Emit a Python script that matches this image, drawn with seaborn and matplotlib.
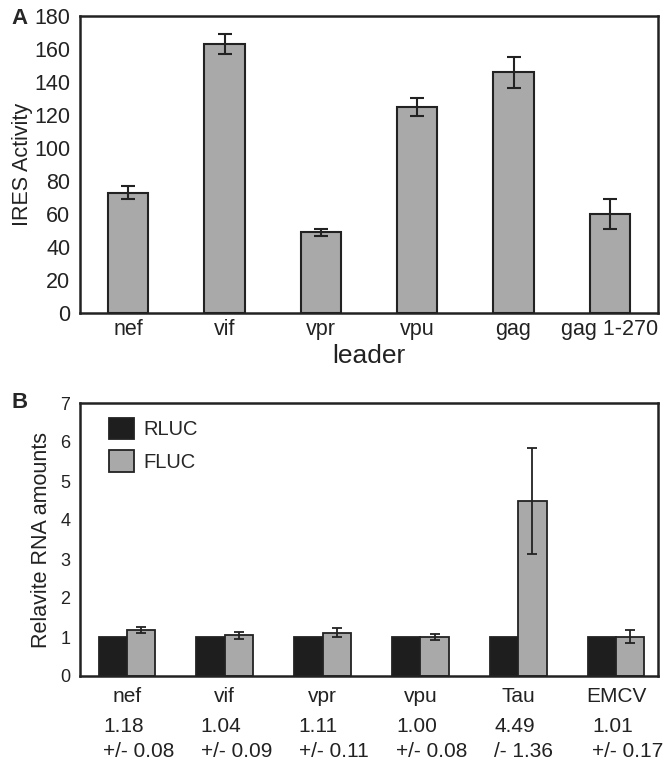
import matplotlib
matplotlib.use("Agg")
import matplotlib.pyplot as plt
import matplotlib.transforms as mtransforms
import seaborn as sns
import pandas as pd

# panel A: IRES activity per leader
leaders_a = ["nef", "vif", "vpr", "vpu", "gag", "gag 1-270"]
ires_activity = [73, 163, 49, 125, 146, 60]
ires_err = [4, 5.8, 2.2, 5.4, 9.4, 9]

# panel B: relative RNA amounts
leaders_b = ["nef", "vif", "vpr", "vpu", "Tau", "EMCV"]
rluc = [1, 1, 1, 1, 1, 1]
fluc = [1.18, 1.04, 1.11, 1.00, 4.49, 1.01]
fluc_err = [0.08, 0.09, 0.11, 0.08, 1.36, 0.17]
fluc_err_txt = ["+/- 0.08", "+/- 0.09", "+/- 0.11", "+/- 0.08", "/- 1.36", "+/- 0.17"]

GREY = "#a9a9a9"
DARK = "#1e1e1e"
EDGE = "#222222"

sns.set_style("white")
plt.rcParams["font.family"] = ["Liberation Sans", "DejaVu Sans"]
plt.rcParams["axes.edgecolor"] = EDGE
plt.rcParams["axes.linewidth"] = 1.8

W, H = 670, 763
fig = plt.figure(figsize=(W / 100, H / 100), dpi=100)
ax_a = fig.add_axes([80 / W, 1 - 313 / H, 578 / W, 297 / H])
ax_b = fig.add_axes([80 / W, 1 - 676 / H, 578 / W, 273 / H])

# ---- panel A
sns.barplot(x=leaders_a, y=ires_activity, color=GREY, saturation=1,
            width=0.42, edgecolor=EDGE, linewidth=1.5, ax=ax_a)
ax_a.errorbar(range(len(leaders_a)), ires_activity, yerr=ires_err, fmt="none",
              ecolor=EDGE, elinewidth=1.5, capsize=4.7, capthick=1.5)
ax_a.set_xlim(-0.5, 5.5)
ax_a.set_ylim(0, 180)
ax_a.set_yticks(range(0, 181, 20))
ax_a.tick_params(axis="y", direction="in", length=8.5, width=1.8,
                 labelsize=15.5, pad=7, colors=EDGE, labelcolor="#222")
ax_a.tick_params(axis="x", length=0, labelsize=15.5, pad=4, labelcolor="#222")
ax_a.set_xlabel("leader", fontsize=19, labelpad=3, color="#222")
ax_a.set_ylabel("IRES Activity", fontsize=15.5, labelpad=1, color="#222")

# ---- panel B
df_b = pd.DataFrame({
    "leader": leaders_b * 2,
    "value": rluc + fluc,
    "reporter": ["RLUC"] * len(leaders_b) + ["FLUC"] * len(leaders_b),
})
sns.barplot(data=df_b, x="leader", y="value", hue="reporter",
            palette={"RLUC": DARK, "FLUC": GREY}, saturation=1,
            width=0.58, gap=0, errorbar=None, edgecolor=EDGE, linewidth=1.3,
            ax=ax_b)
fluc_x = [p.get_x() + p.get_width() / 2 for p in ax_b.containers[1]]
ax_b.errorbar(fluc_x, fluc, yerr=fluc_err, fmt="none",
              ecolor=EDGE, elinewidth=1.3, capsize=3.6, capthick=1.3)
ax_b.set_xlim(-0.48, 5.43)
ax_b.set_ylim(0, 7)
ax_b.set_yticks(range(0, 8))
ax_b.tick_params(axis="y", direction="in", length=8, width=1.8,
                 labelsize=13, pad=7, colors=EDGE, labelcolor="#222")
ax_b.tick_params(axis="x", length=0, labelsize=15, pad=8, labelcolor="#222")
ax_b.set_xlabel("")
ax_b.set_ylabel("Relavite RNA amounts", fontsize=15.5, labelpad=6, color="#222")

# value / error text under each leader
trans = mtransforms.blended_transform_factory(ax_b.transData, ax_b.transAxes)
for i, (v, e) in enumerate(zip(fluc, fluc_err_txt)):
    ax_b.text(i - 0.245, -0.205, f"{v:.2f}", transform=trans, ha="left",
              va="baseline", fontsize=15, color="#222")
    ax_b.text(i - 0.245, -0.297, e, transform=trans, ha="left",
              va="baseline", fontsize=15, color="#222")

handles, labels = ax_b.get_legend_handles_labels()
ax_b.legend(handles, labels, loc="upper left", bbox_to_anchor=(29 / 578, 1 - 15 / 273),
            frameon=False, fontsize=14.5, handlelength=1.25, handleheight=1.25,
            handletextpad=0.45, labelspacing=0.55, borderpad=0, borderaxespad=0)

for ax in (ax_a, ax_b):
    for s in ax.spines.values():
        s.set_visible(True)

fig.text(20 / W, 1 - 19 / H, "A", fontsize=16, fontweight="bold", ha="center", va="center")
fig.text(20 / W, 1 - 402 / H, "B", fontsize=16, fontweight="bold", ha="center", va="center")

fig.savefig("out.png", dpi=100)
